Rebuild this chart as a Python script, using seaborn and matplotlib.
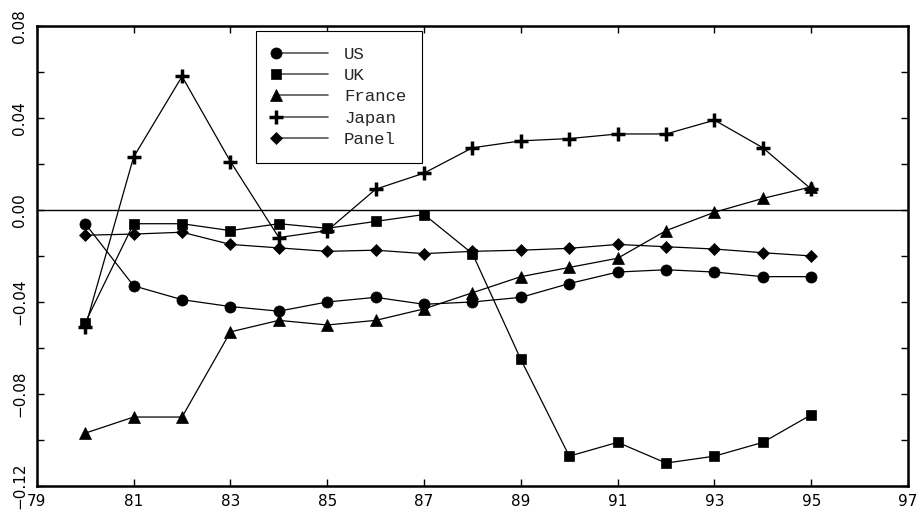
import numpy as np
import pandas as pd
import seaborn as sns
import matplotlib
matplotlib.use("Agg")
import matplotlib.pyplot as plt
from matplotlib.lines import Line2D
from matplotlib.legend_handler import HandlerLine2D
from matplotlib.ticker import MultipleLocator

# 数据：1980-1995 各国取值
years = list(range(80, 96))
us = [-0.006, -0.033, -0.039, -0.042, -0.044, -0.040, -0.038, -0.041,
      -0.040, -0.038, -0.032, -0.027, -0.026, -0.027, -0.029, -0.029]
uk = [-0.049, -0.006, -0.006, -0.009, -0.006, -0.008, -0.005, -0.002,
      -0.019, -0.065, -0.107, -0.101, -0.110, -0.107, -0.101, -0.089]
france = [-0.097, -0.090, -0.090, -0.053, -0.048, -0.050, -0.048, -0.043,
          -0.036, -0.029, -0.025, -0.021, -0.009, -0.001, 0.005, 0.010]
japan = [-0.051, 0.023, 0.058, 0.021, -0.012, -0.009, 0.009, 0.016,
         0.027, 0.030, 0.031, 0.033, 0.033, 0.039, 0.027, 0.009]
panel = [-0.011, -0.0105, -0.0097, -0.015, -0.0165, -0.018, -0.0175, -0.019,
         -0.018, -0.0175, -0.0167, -0.015, -0.016, -0.017, -0.0186, -0.020]

names = ["US", "UK", "France", "Japan", "Panel"]
series = [us, uk, france, japan, panel]
markers = {"US": "o", "UK": "s", "France": "^", "Japan": "+", "Panel": "D"}
msizes = {"US": 8, "UK": 7.5, "France": 8, "Japan": 10, "Panel": 6.5}

df = pd.DataFrame({
    "year": years * len(names),
    "value": sum(series, []),
    "country": sum([[n] * len(years) for n in names], []),
})


# 图例里只在线段左端画标记
class LeftMarker(HandlerLine2D):
    def create_artists(self, legend, orig_handle, xdescent, ydescent,
                       width, height, fontsize, trans):
        arts = super().create_artists(legend, orig_handle, xdescent, ydescent,
                                      width, height, fontsize, trans)
        for a in arts:
            a.set_markevery([0])
        return arts


sns.set_style("ticks")
plt.rcParams["font.family"] = ["DejaVu Sans"]

fig = plt.figure(figsize=(9.21, 5.16), dpi=100)
ax = fig.add_axes([0.040, 0.058, 0.946, 0.892])

for n in names:
    sub = df[df["country"] == n]
    sns.lineplot(data=sub, x="year", y="value", ax=ax, color="black",
                 linewidth=0.9, marker=markers[n], markersize=msizes[n],
                 markeredgewidth=2.5 if n == "Japan" else 0.5,
                 markeredgecolor="black", markerfacecolor="black",
                 legend=False)

ax.axhline(0, color="black", linewidth=1.0, zorder=1)

ax.set_xlim(79, 97)
ax.set_ylim(-0.12, 0.08)
ax.set_xticks(range(79, 98, 2))
ax.set_xticklabels([str(x) for x in range(79, 98, 2)])
ax.yaxis.set_major_locator(MultipleLocator(0.04))
ax.yaxis.set_minor_locator(MultipleLocator(0.02))
ax.set_yticklabels([f"{v:.2f}".replace("-", "\u2212") for v in ax.get_yticks()],
                   rotation=90, va="center")
ax.set_xlabel("")
ax.set_ylabel("")

ax.tick_params(axis="both", which="both", direction="in", top=True, right=True,
               length=5, width=1.0, labelsize=11, colors="black")
ax.tick_params(axis="x", pad=6)
ax.tick_params(axis="y", pad=7)
for s in ax.spines.values():
    s.set_linewidth(1.8)
    s.set_color("black")

handles = []
for n in names:
    h = Line2D([0, 1], [0, 0], color="#555555", linewidth=1.2,
               marker=markers[n], markersize=msizes[n],
               markeredgewidth=2.5 if n == "Japan" else 0.5,
               markeredgecolor="black", markerfacecolor="black")
    handles.append(h)
leg = ax.legend(handles, names, loc="upper left",
                bbox_to_anchor=(0.251, 0.989), numpoints=2,
                handler_map={Line2D: LeftMarker()},
                handlelength=3.6, handletextpad=0.6, labelspacing=0.36,
                borderpad=0.9, borderaxespad=0, fancybox=False,
                framealpha=1, edgecolor="black",
                prop={"family": "Liberation Mono", "size": 12.5})
leg.get_frame().set_linewidth(0.8)

plt.savefig("out.png", dpi=100)
